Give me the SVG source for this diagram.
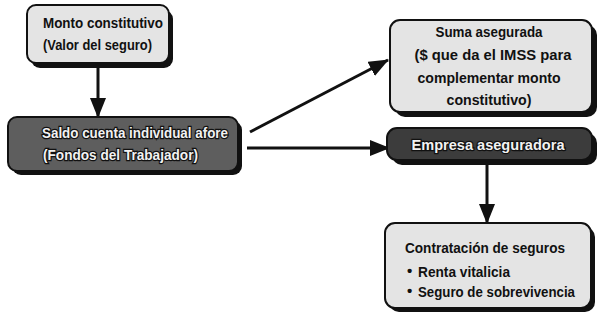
<svg xmlns="http://www.w3.org/2000/svg" width="600" height="320" viewBox="0 0 600 320">
  <defs>
    <style>
      .shadow { fill: #111; }
      .light { fill: #e4e4e4; stroke: #111; stroke-width: 2; }
      .dark { fill: #5e5e5e; stroke: #111; stroke-width: 2; }
      .darker { fill: #3c3c3c; stroke: #111; stroke-width: 2; }
      .t { font-family: "Liberation Sans", Arial, sans-serif; font-weight: bold; font-size: 15px; fill: #111; }
      .tw { font-family: "Liberation Sans", Arial, sans-serif; font-weight: bold; font-size: 15px; fill: #f2f2f2; stroke: #111; stroke-width: 2.5px; paint-order: stroke; }
      .c { text-anchor: middle; }
      .conn line { stroke: #111; stroke-width: 3; }
    </style>
    <marker id="arrow" markerUnits="userSpaceOnUse" markerWidth="20" markerHeight="16" refX="19" refY="8" orient="auto">
      <path d="M0,0 L20,8 L0,16 Z" fill="#111"/>
    </marker>
  </defs>

  <rect width="600" height="320" fill="#fff"/>

  <!-- connectors -->
  <g id="connectors" class="conn">
    <line x1="98" y1="66" x2="98" y2="117" marker-end="url(#arrow)"/>
    <line x1="250" y1="132" x2="388" y2="60" marker-end="url(#arrow)"/>
    <line x1="247" y1="148" x2="389" y2="148" marker-end="url(#arrow)"/>
    <line x1="487" y1="163" x2="487" y2="223" marker-end="url(#arrow)"/>
  </g>

  <!-- Monto constitutivo -->
  <g id="monto">
    <rect class="shadow" x="31" y="10" width="142" height="58" rx="9"/>
    <rect class="light" x="27" y="5" width="142" height="58" rx="9"/>
    <text class="t" x="43" y="28" textLength="120" lengthAdjust="spacingAndGlyphs">Monto constitutivo</text>
    <text class="t" x="43" y="50" textLength="109" lengthAdjust="spacingAndGlyphs">(Valor del seguro)</text>
  </g>

  <!-- Saldo cuenta individual -->
  <g id="saldo">
    <rect class="shadow" x="12" y="121" width="230" height="54" rx="9"/>
    <rect class="dark" x="8" y="117" width="230" height="54" rx="9"/>
    <text class="tw" x="42" y="138" textLength="186" lengthAdjust="spacingAndGlyphs">Saldo cuenta individual afore</text>
    <text class="tw" x="43" y="160" textLength="155" lengthAdjust="spacingAndGlyphs">(Fondos del Trabajador)</text>
  </g>

  <!-- Suma asegurada -->
  <g id="suma">
    <rect class="shadow" x="395" y="25" width="202" height="92" rx="10"/>
    <rect class="light" x="390" y="20" width="202" height="92" rx="10"/>
    <text class="t c" x="489" y="37" textLength="107" lengthAdjust="spacingAndGlyphs">Suma asegurada</text>
    <text class="t c" x="493" y="60" textLength="157" lengthAdjust="spacingAndGlyphs">($ que da el IMSS para</text>
    <text class="t c" x="489" y="83" textLength="143" lengthAdjust="spacingAndGlyphs">complementar monto</text>
    <text class="t c" x="489" y="105" textLength="85" lengthAdjust="spacingAndGlyphs">constitutivo)</text>
  </g>

  <!-- Empresa aseguradora -->
  <g id="empresa">
    <rect class="shadow" x="392" y="133" width="205" height="32" rx="10"/>
    <rect class="darker" x="387" y="128" width="205" height="32" rx="10"/>
    <text class="tw c" x="488" y="150" textLength="153" lengthAdjust="spacingAndGlyphs">Empresa aseguradora</text>
  </g>

  <!-- Contratacion de seguros -->
  <g id="contratacion">
    <rect class="shadow" x="389" y="227" width="206" height="85" rx="10"/>
    <rect class="light" x="385" y="223" width="206" height="85" rx="10"/>
    <text class="t" x="405" y="253" textLength="160" lengthAdjust="spacingAndGlyphs">Contratación de seguros</text>
    <text class="t" x="407" y="276">•</text>
    <text class="t" x="418" y="277" textLength="92" lengthAdjust="spacingAndGlyphs">Renta vitalicia</text>
    <text class="t" x="407" y="296">•</text>
    <text class="t" x="418" y="297" textLength="157" lengthAdjust="spacingAndGlyphs">Seguro de sobrevivencia</text>
  </g>
</svg>
